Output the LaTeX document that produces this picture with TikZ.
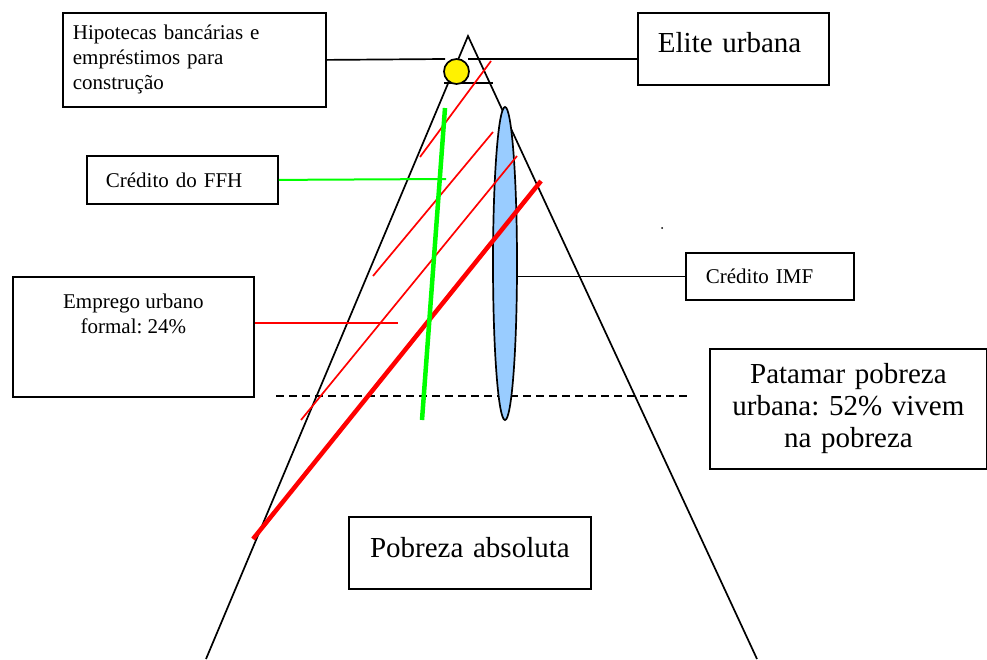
\documentclass[tikz,border=0pt]{standalone}
\usepackage{fontspec}
\setmainfont{Liberation Serif}
\usetikzlibrary{shapes.geometric}

\definecolor{verde}{RGB}{0,255,0}
\definecolor{azul}{RGB}{153,204,255}
\frenchspacing

\begin{document}
\begin{tikzpicture}[x=1pt,y=-1pt,
      box/.style={draw,line width=1.8pt,inner ysep=0pt,anchor=north west},
      small/.style={font=\fontsize{21}{25}\selectfont},
      large/.style={font=\fontsize{29}{32}\selectfont},
      thin/.style={line width=1.7pt},
      thick red/.style={red,line width=4.5pt},
      thick green/.style={verde,line width=4.5pt}]
\useasboundingbox (0,0) rectangle (987,659);

    % piramide
    \coordinate (topo) at (468,36);
    \coordinate (baseesq) at (206,659);
    \coordinate (basedir) at (757,659);
    \draw[thin] (baseesq) -- (topo) -- (basedir);

    % caixas
    \node[box,small,text width=243pt,inner xsep=10pt,minimum height=94pt,align=left]
      (hipotecas) at (62,12) {Hipotecas banc\'arias e\\empr\'estimos para\\constru\c{c}\~ao};
    \node[box,large,text width=151pt,inner xsep=20pt,minimum height=72pt,align=left,text depth=12pt]
      (elite) at (637,12) {Elite urbana};
    \node[box,small,text width=153pt,inner xsep=19pt,minimum height=48pt,align=left]
      (ffh) at (86,155) {Cr\'edito do FFH};
    \node[box,small,text width=128pt,inner xsep=20pt,minimum height=47pt,align=left]
      (imf) at (685,252) {Cr\'edito IMF};
    \node[box,small,inner sep=0pt]
      (emprego) at (12,276) {\parbox[c][120pt][t]{241pt}{\centering\vspace*{17pt}Emprego urbano\\formal: 24\%}};
    \node[box,large,text width=257pt,inner xsep=10pt,minimum height=120pt,align=center]
      (patamar) at (709,348) {Patamar pobreza\\urbana: 52\% vivem\\na pobreza};
    \node[box,large,text width=222pt,inner xsep=10pt,minimum height=72pt,align=center,text depth=10pt]
      (absoluta) at (348,516) {Pobreza absoluta};

    % linhas do topo
    \coordinate (hipfim) at (445,59);
    \coordinate (eliteini) at (468,59);
    \coordinate (baixoesq) at (444,83);
    \coordinate (baixodir) at (493,83);
    \draw[thin] (hipotecas.east) -- (hipfim);
    \draw[thin] (eliteini) -- (eliteini -| elite.west);
    \draw[thin] (baixoesq) -- (baixodir);
    \node[circle,draw,thin,fill=yellow,minimum size=25pt,inner sep=0pt] (bola) at (456.5,71.5) {};

    % patamar da pobreza
    \draw[thin,dash pattern=on 8pt off 5pt] (276,396) -- (688,396);

    \node[ellipse,draw,thin,fill=azul,minimum width=24pt,minimum height=313pt,inner sep=0pt]
      (elipse) at (505,263.5) {};

    % ligacoes
    \coordinate (empfim) at (398,323);
    \coordinate (ffhfim) at (446,179);
    \draw[thin] (imf.west) -- (imf.west -| elipse.east);
    \draw[thin,red] (emprego.east |- empfim) -- (empfim);
    \draw[verde,line width=2pt] (ffh.east) -- (ffhfim);

    % faixas de credito
    \draw[thin,red] (491,61) -- (420,157);
    \draw[thin,red] (493,132) -- (373,276);
    \draw[thin,red] (517,156) -- (301,420);
    \draw[thick red] (541,181) -- (253,539);
    \draw[thick green] (445,108) -- (422,420);

    \fill (662,228) circle (1pt);

\end{tikzpicture}
\end{document}
